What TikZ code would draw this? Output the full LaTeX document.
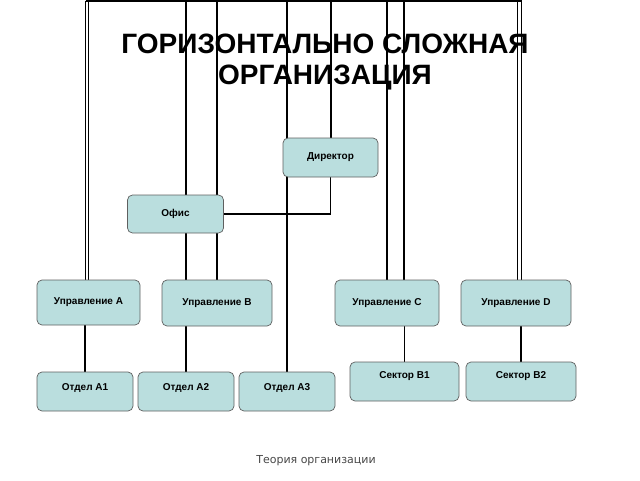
\documentclass[tikz,border=0pt]{standalone}
\usepackage{fontspec}
\setmainfont{Liberation Sans}
\newfontfamily\footfont{DejaVu Sans}
\usetikzlibrary{backgrounds}
\definecolor{unitfill}{RGB}{186,222,222}
\definecolor{unitline}{RGB}{95,95,95}

\begin{document}
\begin{tikzpicture}[x=1pt,y=-1pt,
    unit/.style={draw=unitline, line width=0.7pt, fill=unitfill, rounded corners=5pt,
      inner sep=0pt, font=\bfseries\fontsize{10}{12}\selectfont},
    lowunit/.style={unit, text depth=9pt},
    link/.style={line width=1.5pt},
    twin/.style={line width=1.2pt}]
  \useasboundingbox (0,0) rectangle (640,480);

  %%%%% TITLE %%%%%
  \node[font=\bfseries\fontsize{28}{31}\selectfont, align=center] (title) at (325,62)
    {ГОРИЗОНТАЛЬНО СЛОЖНАЯ\\ОРГАНИЗАЦИЯ};

  %%%%% UNITS %%%%%
  \node[unit, minimum width=95, minimum height=39] (dir) at (330.5,157.5) {Директор};
  \node[unit, minimum width=96, minimum height=38] (ofis) at (175.5,214) {Офис};

  \node[unit, minimum width=103, minimum height=45] (uprA) at (88.5,302.5) {Управление A};
  \node[unit, minimum width=110, minimum height=46] (uprB) at (217,303) {Управление B};
  \node[unit, minimum width=104, minimum height=46] (uprC) at (387,303) {Управление C};
  \node[unit, minimum width=110, minimum height=46] (uprD) at (516,303) {Управление D};

  \node[lowunit, minimum width=96, minimum height=39] (otdA1) at (85,391.5) {Отдел A1};
  \node[lowunit, minimum width=96, minimum height=39] (otdA2) at (186,391.5) {Отдел A2};
  \node[lowunit, minimum width=96, minimum height=39] (otdA3) at (287,391.5) {Отдел A3};
  \node[lowunit, minimum width=109, minimum height=39, text depth=13pt] (sekB1) at (404.5,381.5) {Сектор B1};
  \node[lowunit, minimum width=110, minimum height=39, text depth=13pt] (sekB2) at (521,381.5) {Сектор B2};

  \node[font=\footfont\fontsize{11}{13}\selectfont, text=black!72] (foot) at (316,461) {Теория организации};

  %%%%% LINES %%%%%
  \coordinate (topL) at (85.5,1.2);
  \coordinate (topR) at (521.5,1.2);
  \coordinate (topL2) at (88.5,0);
  \coordinate (topR2) at (517.5,0);
  \coordinate (topB1) at (186,0);
  \coordinate (topB2) at (217,0);
  \coordinate (topA3) at (287,0);
  \coordinate (topD) at (331,0);
  \coordinate (topC1) at (387,0);
  \coordinate (topC2) at (404,0);

  \begin{scope}[on background layer]
    \draw[link] (topL) -- (topR);
    \draw[twin] (topL) -- (topL |- uprA.north);
    \draw[twin] (topL2) -- (topL2 |- uprA.north);
    \draw[link] (topB1) -- (topB1 |- uprB.north);
    \draw[link] (topB2) -- (topB2 |- uprB.north);
    \draw[link] (topA3) -- (otdA3.north);
    \draw[link] (topD) -- (topD |- dir.north);
    \draw[link] (topC1) -- (topC1 |- uprC.north);
    \draw[link] (topC2) -- (topC2 |- uprC.north);
    \draw[twin] (topR2) -- (topR2 |- uprD.north);
    \draw[twin] (topR) -- (topR |- uprD.north);

    \draw[link] (dir.south) |- (ofis.east);
    \draw[link] (uprA.south -| otdA1.north) -- (otdA1.north);
    \draw[link] (uprB.south -| otdA2.north) -- (otdA2.north);
    \draw[link] (uprC.south -| sekB1.north) -- (sekB1.north);
    \draw[link] (uprD.south -| sekB2.north) -- (sekB2.north);
  \end{scope}
\end{tikzpicture}
\end{document}
